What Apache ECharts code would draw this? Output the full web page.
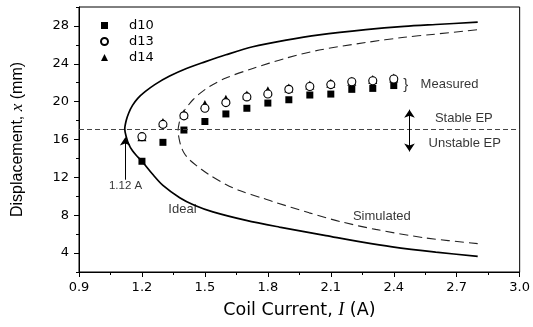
<!DOCTYPE html>
<html>
<head>
<meta charset="utf-8">
<script src="https://cdn.jsdelivr.net/npm/echarts@6/dist/echarts.min.js"></script>
<style>html,body{margin:0;padding:0;background:#fff;}#c{width:533px;height:327px;}</style>
</head>
<body>
<div id="c"></div>
<script>
// ---- data ----
const currents = [1.2,1.3,1.4,1.5,1.6,1.7,1.8,1.9,2.0,2.1,2.2,2.3,2.4];
const d10 = [13.7,15.7,17.0,17.9,18.7,19.3,19.85,20.2,20.7,20.8,21.3,21.4,21.7];
const d13 = [16.3,17.6,18.5,19.3,19.9,20.5,20.8,21.3,21.6,21.8,22.1,22.2,22.4];
const d14 = [16.3,17.8,18.7,19.7,20.25,20.7,21.15,21.45,21.75,21.95,22.15,22.35,22.5];

// curves: vertex first, then outward along each branch
const idealUpper = [[1.118,17.1],[1.125,18.0],[1.137,18.8],[1.155,19.6],[1.18,20.35],[1.215,21.05],[1.261,21.8],[1.332,22.7],[1.412,23.5],[1.5,24.2],[1.6,24.95],[1.728,25.8],[1.887,26.5],[2.045,27.05],[2.267,27.6],[2.45,27.95],[2.6,28.15],[2.8,28.4]];
const idealLower = [[1.118,17.1],[1.125,16.3],[1.137,15.5],[1.155,14.8],[1.178,14.2],[1.2,13.7],[1.25,12.35],[1.3,11.15],[1.38,9.85],[1.45,9.05],[1.538,8.35],[1.697,7.45],[1.855,6.75],[2.077,5.85],[2.25,5.15],[2.393,4.65],[2.6,4.1],[2.8,3.65]];
const simUpper = [[1.372,16.9],[1.377,17.7],[1.386,18.4],[1.4,19.0],[1.42,19.6],[1.443,20.2],[1.475,20.85],[1.522,21.6],[1.6,22.5],[1.728,23.5],[1.887,24.6],[2.045,25.45],[2.267,26.25],[2.45,26.8],[2.583,27.1],[2.8,27.6]];
const simLower = [[1.372,16.9],[1.377,16.1],[1.386,15.3],[1.4,14.6],[1.427,13.85],[1.483,12.85],[1.522,12.25],[1.6,11.25],[1.665,10.6],[1.775,9.8],[1.823,9.45],[1.997,8.25],[2.15,7.3],[2.314,6.5],[2.552,5.6],[2.8,5.0]];

const eqLevel = 17.1;
const yTicks = [4,8,12,16,20,24,28];
const yMinorTicks = [2,6,10,14,18,22,26,30];

const noteText = ['Ideal','Simulated','Measured','Stable EP','Unstable EP','1.12 A','}'];
const noteX = [1.393,2.343,2.528,2.734,2.738,1.122,2.457];
const noteY = [8.59,7.88,21.79,18.27,15.63,11.1,21.8];

const arrowCurrent = 1.12, arrowFrom = 11.75, arrowTo = 16.2;
const epArrowCurrent = 2.475, epArrowTop = 19.15, epArrowBottom = 14.74;

// ---- chart ----
const chart = echarts.init(document.getElementById('c'), null, {renderer:'canvas'});
const tickFont = {fontFamily:'DejaVu Sans', fontSize:13, color:'#000'};
const noteFont = 'Liberation Sans';

function pairs(xs, ys){ return xs.map((x,i)=>[x, ys[i]]); }
// join lower branch (reversed) and upper branch through the shared vertex
function joinBranches(lower, upper){ return lower.slice().reverse().concat(upper.slice(1)); }

const curveBase = {type:'line', showSymbol:false, smooth:0.3, z:2, silent:true};

const option = {
  animation:false,
  backgroundColor:'#fff',
  grid:{left:79, right:12, top:7, bottom:55, show:true, borderColor:'#000', borderWidth:1, backgroundColor:'transparent'},
  legend:{
    orient:'vertical', left:95, top:14, itemWidth:7, itemHeight:7, itemGap:3,
    data:['d10','d13','d14'],
    textStyle:{fontFamily:'DejaVu Sans', fontSize:13, color:'#000', lineHeight:13, padding:[0,0,0,16]}
  },
  xAxis:{
    type:'value', min:0.9, max:3.0, interval:0.3,
    name:'Coil Current, {i|I} (A)', nameLocation:'middle', nameGap:29,
    nameTextStyle:{fontFamily:'DejaVu Sans', fontSize:17.5, color:'#000',
      rich:{i:{fontFamily:'Liberation Serif', fontStyle:'italic', fontSize:18, color:'#000'}}},
    axisLine:{lineStyle:{color:'#000', width:1}},
    axisTick:{show:true, inside:false, length:5, lineStyle:{color:'#000'}},
    minorTick:{show:true, splitNumber:2, length:3, lineStyle:{color:'#000'}},
    axisLabel:Object.assign({margin:9, formatter:v=>v.toFixed(1)}, tickFont),
    splitLine:{show:false}, minorSplitLine:{show:false}
  },
  yAxis:[{
    type:'value', min:2, max:30,
    name:'Displacement, {i|x} (mm)', nameLocation:'middle', nameGap:53,
    nameTextStyle:{fontFamily:'Liberation Sans', fontSize:16, color:'#000',
      rich:{i:{fontFamily:'Liberation Serif', fontStyle:'italic', fontSize:17, color:'#000'}}},
    axisLine:{lineStyle:{color:'#000', width:1}},
    axisTick:{show:true, inside:false, length:5, customValues:yTicks, lineStyle:{color:'#000'}},
    axisLabel:Object.assign({margin:10, customValues:yTicks}, tickFont),
    splitLine:{show:false}
  },{
    type:'value', min:2, max:30, position:'left',
    axisLine:{show:false},
    axisTick:{show:true, inside:false, length:3, customValues:yMinorTicks, lineStyle:{color:'#000'}},
    axisLabel:{show:false}, splitLine:{show:false}
  }],
  series:[
    Object.assign({name:'ideal', data:joinBranches(idealLower, idealUpper), lineStyle:{color:'#000', width:1.7}}, curveBase),
    Object.assign({name:'simulated', data:joinBranches(simLower, simUpper), lineStyle:{color:'#222', width:1.1, type:[9,5]},
      markLine:{silent:true, symbol:['none','none'], label:{show:false},
        lineStyle:{color:'#444', width:1, type:[5,3]},
        data:[{yAxis:eqLevel}]}}, curveBase),
    {type:'scatter', name:'d14', data:pairs(currents,d14), symbol:'triangle', symbolSize:9, itemStyle:{color:'#000', opacity:1}, z:3},
    {type:'scatter', name:'d10', data:pairs(currents,d10), symbol:'rect', symbolSize:7, itemStyle:{color:'#000', opacity:1}, z:4},
    {type:'scatter', name:'d13', data:pairs(currents,d13), symbol:'circle', symbolSize:8, itemStyle:{color:'#fff', borderColor:'#000', borderWidth:1.1, opacity:1}, z:5},
    {type:'scatter', name:'notes', silent:true, symbol:'rect', symbolSize:1, itemStyle:{color:'rgba(0,0,0,0)'}, z:6,
      data:noteText.map((t,i)=>({value:[noteX[i], noteY[i]], name:t})),
      label:{show:true, position:'inside', formatter:p=>p.name, fontFamily:noteFont, fontSize:13, color:'#000'},
      markLine:{silent:true, symbol:['none','arrow'], symbolSize:8, label:{show:false},
        lineStyle:{color:'#000', width:1, type:'solid'},
        data:[
          [{coord:[arrowCurrent, arrowFrom]},{coord:[arrowCurrent, arrowTo]}],
          [{coord:[epArrowCurrent, epArrowTop], symbol:'arrow'},{coord:[epArrowCurrent, epArrowBottom], symbol:'arrow'}]
        ]}
    }
  ]
};
option.series[5].data.forEach(d=>{
  if(d.name==='Measured'){ d.label={align:'left'}; }
  if(d.name==='1.12 A'){ d.label={fontSize:11.5}; }
  if(d.name==='}'){ d.label={fontSize:15}; }
});
chart.setOption(option);
</script>
</body>
</html>
